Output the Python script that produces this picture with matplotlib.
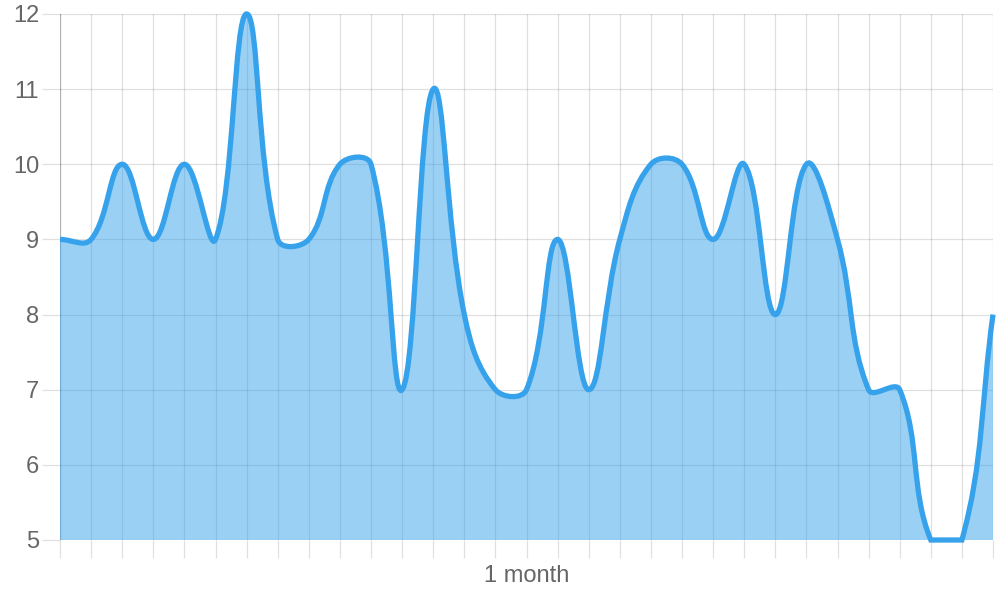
import numpy as np
import matplotlib
matplotlib.use('Agg')
import matplotlib.pyplot as plt
from matplotlib.path import Path
from matplotlib.patches import PathPatch

# daily values over one month
days = list(range(31))
values = [9, 9, 10, 9, 10, 9, 12, 9, 9, 10, 10, 7, 11, 8, 7, 7,
          9, 7, 9, 10, 10, 9, 10, 8, 10, 9, 7, 7, 5, 5, 8]
y_ticks = [5, 6, 7, 8, 9, 10, 11, 12]
x_label_day = 15
x_label = '1 month'

plt.rcParams['font.family'] = ['Liberation Sans', 'DejaVu Sans']

fig = plt.figure(figsize=(10, 6), dpi=100)
ax = fig.add_axes([0.06, 0.1, 0.933, 0.8767])
ax.set_xlim(0, 30)
ax.set_ylim(5, 12)

# spline like chart.js (tension 0.4), worked out in pixels
tension = 0.4
pts = ax.transData.transform(np.column_stack([days, values]))
bb = ax.bbox
n = len(pts)
c_prev = np.zeros_like(pts)
c_next = np.zeros_like(pts)
for i in range(n):
    p = pts[max(i - 1, 0)]
    c = pts[i]
    nx = pts[min(i + 1, n - 1)]
    d01 = np.hypot(*(c - p))
    d12 = np.hypot(*(nx - c))
    tot = d01 + d12
    s01 = d01 / tot if tot else 0
    s12 = d12 / tot if tot else 0
    c_prev[i] = c - tension * s01 * (nx - p)
    c_next[i] = c + tension * s12 * (nx - p)
# keep control points inside the chart area
for arr in (c_prev, c_next):
    arr[:, 0] = np.clip(arr[:, 0], bb.x0, bb.x1)
    arr[:, 1] = np.clip(arr[:, 1], bb.y0, bb.y1)

inv = ax.transData.inverted()
P = inv.transform(pts)
CP = inv.transform(c_prev)
CN = inv.transform(c_next)

verts = [P[0]]
codes = [Path.MOVETO]
for i in range(n - 1):
    verts += [CN[i], CP[i + 1], P[i + 1]]
    codes += [Path.CURVE4] * 3

fill_verts = verts + [(days[-1], 5), (days[0], 5), (days[0], 5)]
fill_codes = codes + [Path.LINETO, Path.LINETO, Path.CLOSEPOLY]

ax.add_patch(PathPatch(Path(fill_verts, fill_codes), facecolor=(54/255, 162/255, 235/255, 0.5),
                       edgecolor='none', zorder=2))
ax.add_patch(PathPatch(Path(verts, codes), facecolor='none', edgecolor=(54/255, 162/255, 235/255),
                       lw=3.8, joinstyle='miter', capstyle='butt', clip_on=False, zorder=3))

# axes / grid
for s in ax.spines.values():
    s.set_visible(False)
ax.set_yticks(y_ticks)
ax.set_yticklabels([str(v) for v in y_ticks])
ax.set_xticks(days)
ax.set_xticklabels([x_label if d == x_label_day else '' for d in days])
ax.grid(True, color='black', alpha=0.12, lw=0.9)
ax.set_axisbelow(True)
ax.tick_params(axis='both', length=13, width=0.9, color=(0, 0, 0, 0.12),
               labelcolor='#666666', labelsize=17)
ax.tick_params(axis='y', pad=2)
ax.tick_params(axis='x', pad=5)
ax.xaxis.get_gridlines()[0].set_alpha(0.3)
ax.xaxis.get_major_ticks()[0].tick1line.set_color((0, 0, 0, 0.3))

fig.savefig('out.png', dpi=100)
